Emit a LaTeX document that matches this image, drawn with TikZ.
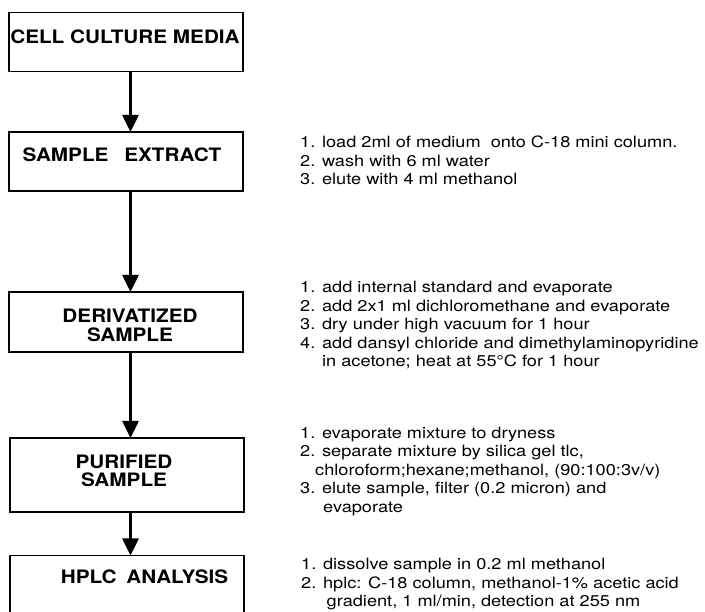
\documentclass[tikz,border=0pt]{standalone}
\usepackage{fontspec}
\setmainfont{TeX Gyre Heros}
\newfontfamily\boxfont[FakeStretch=1.12]{TeX Gyre Heros}
\newfontfamily\stepfont[FakeStretch=1.165]{TeX Gyre Heros}
\usetikzlibrary{arrows.meta}
\begin{document}
\begin{tikzpicture}[x=1pt,y=-1pt,
  box/.style={draw, line width=1.3pt, outer sep=0pt, inner sep=0pt, minimum width=234pt},
  lab/.style={font=\boxfont\bfseries\fontsize{18.5}{18.4}\selectfont, inner sep=0pt, align=center},
  stepline/.style={font=\stepfont\fontsize{15.6}{18.5}\selectfont, anchor=base west, inner sep=0pt},
  flow/.style={line width=2.6pt, -{Triangle[width=16pt,length=17pt]}}]
\useasboundingbox (0,0) rectangle (705,612);
\clip (0,0) rectangle (705,612);
\fill[white] (0,0) rectangle (705,612);
% boxes
\node[box, minimum height=59pt] (b1) at (126,42.2) {};
\node[box, minimum height=59pt] (b2) at (126,161.5) {};
\node[box, minimum height=60pt] (b3) at (126,322) {};
\node[box, minimum height=74pt] (b4) at (127,475) {};
\node[box, minimum height=69pt] (b5) at (127,590) {};
\coordinate (ax) at (130.5,0);
% labels
\node[lab, anchor=base] (l1) at (125,43.3) {CELL CULTURE MEDIA};
\node[lab, anchor=base] (l2) at (122,162) {SAMPLE\hspace{10pt} EXTRACT};
\node[lab, anchor=center] (l3) at (130,325.5) {DERIVATIZED\\SAMPLE};
\node[lab, anchor=center] (l4) at (124,471) {PURIFIED\\SAMPLE};
\node[lab, anchor=base] (l5) at (144.5,583.5) {HPLC\hspace{4pt} ANALYSIS};
% arrows
\draw[flow] (b1.south -| ax) -- (b2.north -| ax);
\draw[flow] (b2.south -| ax) -- (b3.north -| ax);
\draw[flow] (b3.south -| ax) -- (b4.north -| ax);
\draw[flow] (b4.south -| ax) -- (b5.north -| ax);
% step texts
\node[stepline] (s11) at (300,148) {1. load 2ml of medium\ \ onto C-18 mini column.};
\node[stepline] (s12) at (300,166.5) {2. wash with 6 ml water};
\node[stepline] (s13) at (300,185) {3. elute with 4 ml methanol};
\node[stepline] (s21) at (300,293) {1. add internal standard and evaporate};
\node[stepline] (s22) at (300,311.5) {2. add 2x1 ml dichloromethane and evaporate};
\node[stepline] (s23) at (300,330) {3. dry under high vacuum for 1 hour};
\node[stepline] (s24) at (300,348.5) {4. add dansyl chloride and dimethylaminopyridine};
\node[stepline] (s25) at (322,367) {in acetone; heat at 55°C for 1 hour};
\node[stepline] (s31) at (300,438.5) {1. evaporate mixture to dryness};
\node[stepline] (s32) at (300,457) {2. separate mixture by silica gel tlc,};
\node[stepline] (s33) at (315,475.5) {chloroform;hexane;methanol, (90:100:3v/v)};
\node[stepline] (s34) at (300,494) {3. elute sample, filter (0.2 micron) and};
\node[stepline] (s35) at (323,512.5) {evaporate};
\node[stepline] (s41) at (301,569.5) {1. dissolve sample in 0.2 ml methanol};
\node[stepline] (s42) at (301,588) {2. hplc: C-18 column, methanol-1\% acetic acid};
\node[stepline] (s43) at (326.5,606.5) {gradient, 1 ml/min, detection at 255 nm};
\end{tikzpicture}
\end{document}
